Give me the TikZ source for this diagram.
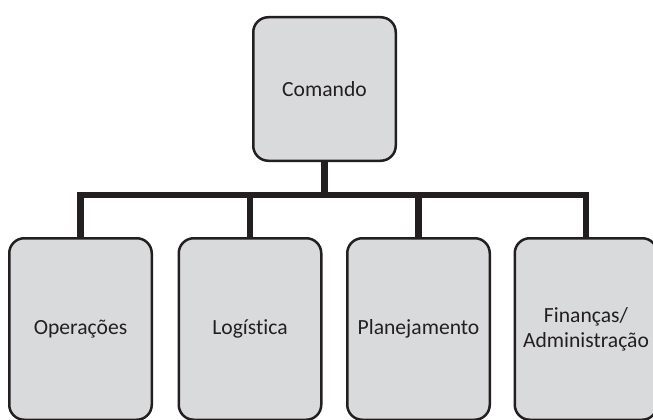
\documentclass[tikz,border=0pt]{standalone}
\usepackage{fontspec}
\setmainfont[Ligatures=NoCommon]{Carlito}
\definecolor{boxfill}{RGB}{217,218,220}
\definecolor{ink}{RGB}{35,31,32}
\begin{document}
\begin{tikzpicture}[x=1pt,y=-1pt,
  orgbox/.style={draw=ink, fill=boxfill, line width=2.5pt, rounded corners=15pt,
    minimum width=142.5pt, inner sep=2pt, align=center,
    font=\fontsize{21.6}{25}\selectfont, text=ink},
  topbox/.style={orgbox, minimum height=143.5pt},
  lowbox/.style={orgbox, minimum height=181.5pt},
  link/.style={draw=ink, line width=6.5pt, line join=miter}]
\useasboundingbox (0,0) rectangle (653,420);
\node[topbox] (cmd) at (324.5,89) {Comando};
\node[lowbox] (op) at (80.5,329) {Operações};
\node[lowbox] (lg) at (250,329) {Logística};
\node[lowbox] (pl) at (418.5,329) {Planejamento};
\node[lowbox] (fi) at (586,329) {Finanças/\\Administração};
\coordinate (bar) at (324.5,195);
\path[link] (op.north) -- (op.north |- bar) -- (fi.north |- bar) -- (fi.north);
\path[link] (cmd.south) -- (bar);
\path[link] (lg.north |- bar) -- (lg.north);
\path[link] (pl.north |- bar) -- (pl.north);
\end{tikzpicture}
\end{document}
